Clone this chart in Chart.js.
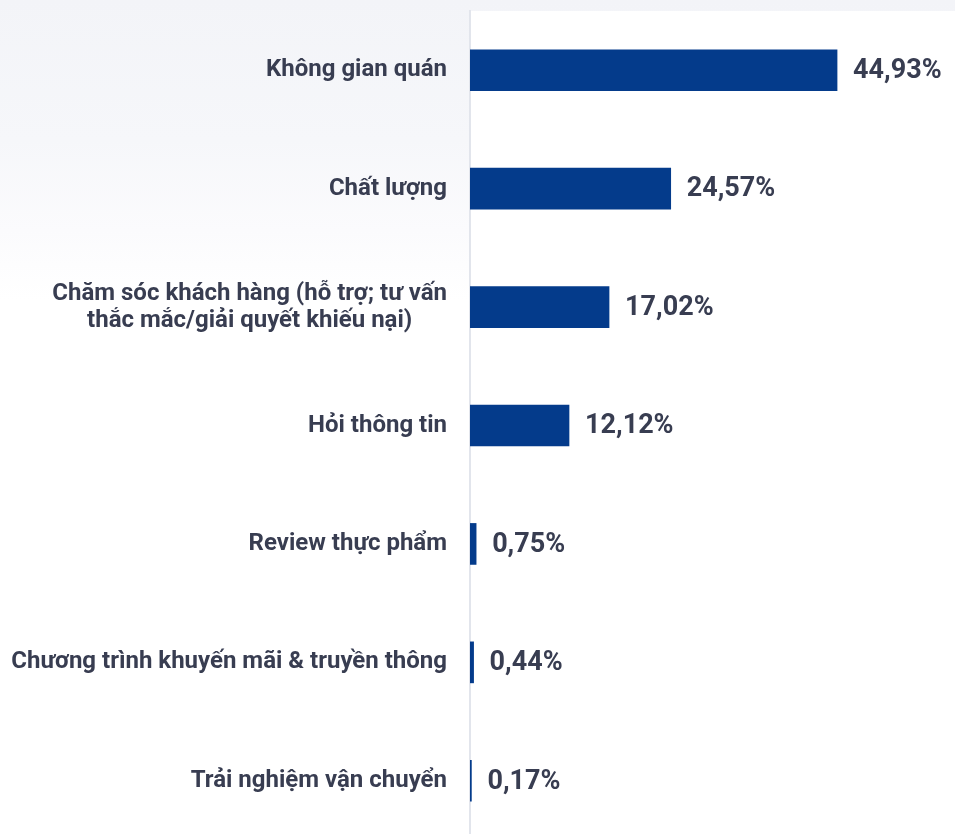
<!DOCTYPE html>
<html>
<head>
<meta charset="utf-8">
<script src="https://cdn.jsdelivr.net/npm/chart.js@4/dist/chart.umd.min.js"></script>
<style>
  html, body { margin: 0; padding: 0; overflow: hidden; }
  body {
    width: 955px; height: 834px;
    background: linear-gradient(to bottom, #f3f4f8 0px, #f6f7fa 140px, #fbfbfd 230px, #ffffff 300px);
    font-family: Roboto, sans-serif;
  }
  #wrap { position: relative; width: 955px; height: 840px; }
</style>
</head>
<body>
<div id="wrap"><canvas id="chart"></canvas></div>
<script>
// danh mục và giá trị (%)
const categories = [
  'Không gian quán',
  'Chất lượng',
  ['Chăm sóc khách hàng (hỗ trợ; tư vấn', 'thắc mắc/giải quyết khiếu nại)'],
  'Hỏi thông tin',
  'Review thực phẩm',
  'Chương trình khuyến mãi & truyền thông',
  'Trải nghiệm vận chuyển'
];
const shares = [44.93, 24.57, 17.02, 12.12, 0.75, 0.44, 0.17];
const shareLabels = ['44,93%', '24,57%', '17,02%', '12,12%', '0,75%', '0,44%', '0,17%'];

const TEXT = '#383d51';

// nền trắng cho vùng biểu đồ
const areaBg = {
  id: 'areaBg',
  beforeDraw(chart) {
    const { ctx, chartArea: a } = chart;
    ctx.save();
    ctx.fillStyle = '#ffffff';
    ctx.fillRect(a.left, a.top, a.right - a.left + 10, a.bottom - a.top);
    ctx.restore();
  }
};

// nhãn danh mục (căn giữa nhiều dòng) và nhãn giá trị
const labelsPlugin = {
  id: 'labelsPlugin',
  afterDraw(chart) {
    const { ctx } = chart;
    const yScale = chart.scales.y;
    const meta = chart.getDatasetMeta(0);
    ctx.save();
    ctx.fillStyle = TEXT;
    ctx.textBaseline = 'middle';
    ctx.textAlign = 'center';
    ctx.font = 'bold 24px Roboto';
    const rightEdge = yScale.right - 23;
    categories.forEach((c, i) => {
      const lines = Array.isArray(c) ? c : [c];
      const maxW = Math.max(...lines.map(l => ctx.measureText(l).width));
      const cx = rightEdge - maxW / 2;
      const cy = yScale.getPixelForTick(i);
      const lh = 27;
      lines.forEach((l, j) => {
        ctx.fillText(l, cx, cy + (j - (lines.length - 1) / 2) * lh);
      });
    });
    ctx.textAlign = 'left';
    ctx.font = 'bold 27px Roboto';
    meta.data.forEach((bar, i) => {
      ctx.fillText(shareLabels[i], bar.x + 16, bar.y + 1);
    });
    ctx.restore();
  }
};

new Chart(document.getElementById('chart'), {
  type: 'bar',
  data: {
    labels: categories,
    datasets: [{
      data: shares,
      backgroundColor: '#043b8b',
      borderWidth: 0,
      barThickness: 41
    }]
  },
  options: {
    indexAxis: 'y',
    responsive: true,
    maintainAspectRatio: false,
    animation: false,
    layout: { padding: { top: 11, right: 3, left: 0, bottom: 0 } },
    plugins: {
      legend: { display: false },
      tooltip: { enabled: false }
    },
    scales: {
      x: {
        display: false,
        min: 0,
        max: 59
      },
      y: {
        grid: { display: false },
        border: { display: true, color: '#e2e5ec', width: 2 },
        ticks: { display: false },
        afterFit(scale) { scale.width = 470; }
      }
    }
  },
  plugins: [areaBg, labelsPlugin]
});
</script>
</body>
</html>
